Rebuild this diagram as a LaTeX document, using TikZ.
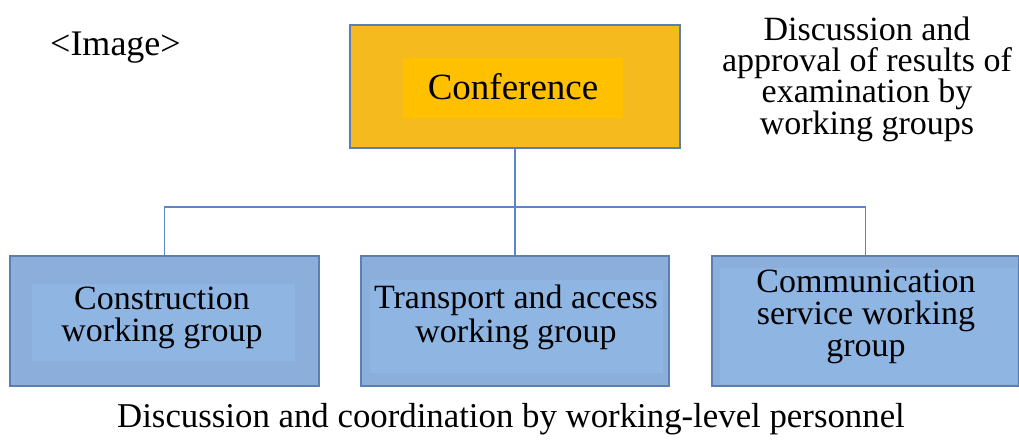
\documentclass[tikz,border=0pt]{standalone}
\usepackage{fontspec}
\setmainfont{Liberation Serif}
\definecolor{topouter}{HTML}{F4BA1E}
\definecolor{topinner}{HTML}{FFC000}
\definecolor{blueouter}{HTML}{8CAEDA}
\definecolor{blueinner}{HTML}{8FB5E3}
\definecolor{boxborder}{HTML}{5A7FB0}
\definecolor{linkcol}{HTML}{5B87C6}
\begin{document}
\begin{tikzpicture}[x=1pt,y=-1pt]
\tikzset{
  outerbox/.style={draw=boxborder, line width=1.3pt, fill=#1, inner sep=0pt},
  innerbox/.style={fill=#1, inner sep=0pt, draw=none},
  lbl/.style={inner sep=0pt, align=center, font=\fontsize{34}{32}\selectfont},
  link/.style={draw=linkcol, line width=1.3pt}
}
\useasboundingbox (0,0) rectangle (1019,441);
\fill[white] (0,0) rectangle (1019,441);

% top box
\node[outerbox=topouter, minimum width=330pt, minimum height=123pt] (conf) at (515,86.5) {};
\node[innerbox=topinner, minimum width=220pt, minimum height=60pt] (confin) at (513,88) {};
\node[inner sep=0pt, anchor=base, font=\fontsize{37}{37}\selectfont] (conftxt) at (513,100) {Conference};

% bottom boxes
\node[outerbox=blueouter, minimum width=309pt, minimum height=130pt] (cons) at (164.5,321) {};
\node[innerbox=blueinner, minimum width=263pt, minimum height=77pt] (consin) at (163.5,322.5) {};
\node[lbl] (constxt) at (162,318.2) {Construction\\working group};

\node[outerbox=blueouter, minimum width=308pt, minimum height=130pt] (trans) at (515,321) {};
\node[innerbox=blueinner, minimum width=293pt, minimum height=93pt] (transin) at (516.5,326.5) {};
\node[lbl, font=\fontsize{34}{34}\selectfont] (transtxt) at (516,317.1) {Transport and access\\working group};

\node[outerbox=blueouter, minimum width=307pt, minimum height=130pt] (comm) at (865.5,321) {};
\node[innerbox=blueinner, minimum width=297pt, minimum height=116pt] (commin) at (868.5,326) {};
\node[lbl] (commtxt) at (866,317.2) {Communication\\service working\\group};

% connectors
\coordinate (bus) at (515,207);
\draw[link] (conf.south) -- (bus);
\draw[link] (bus) -- (trans.north);
\draw[link] (cons.north) |- (bus) -| (comm.north);

% free texts
\node[inner sep=0pt, anchor=base west, font=\fontsize{36}{36}\selectfont] (img) at (50,56) {<Image>};
\node[lbl, font=\fontsize{34}{31.3}\selectfont] (note) at (867,79.2) {Discussion and\\approval of results of\\examination by\\working groups};
\node[inner sep=0pt, anchor=base, font=\fontsize{34.8}{34.8}\selectfont] (caption) at (511,427) {Discussion and coordination by working-level personnel};
\end{tikzpicture}
\end{document}
